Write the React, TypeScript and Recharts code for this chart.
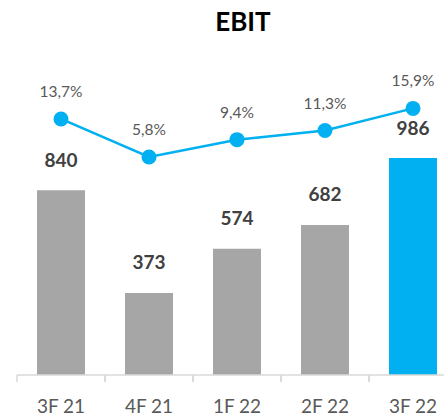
import React from 'react';
import { ComposedChart, Bar, Line, XAxis, YAxis, Cell, LabelList } from 'recharts';

// dados
const periods = ['3F 21', '4F 21', '1F 22', '2F 22', '3F 22'];
const ebit = [840, 373, 574, 682, 986];
const margin = [13.7, 5.8, 9.4, 11.3, 15.9];

const COLOR_GRAY = '#a6a6a6';
const COLOR_BLUE = '#00b0f0';
const COLOR_AXIS = '#d9d9d9';
const FONT = 'Lato, "Noto Sans", sans-serif';

const data = periods.map((p, i) => ({ name: p, ebit: ebit[i], margin: margin[i] }));

const fmtPct = (v: number) => v.toFixed(1).replace('.', ',') + '%';

// rótulo do valor em cima da barra
const BarValue = (props: any) => {
  const { x, y, width, value } = props;
  return (
    <text x={x + width / 2} y={y - 31} textAnchor="middle" dominantBaseline="central"
      fill="#404040" fontSize={19} fontWeight={700} fontFamily={FONT}>
      {value}
    </text>
  );
};

// rótulo da margem em cima do ponto
const PctValue = (props: any) => {
  const { x, y, value } = props;
  return (
    <text x={x} y={y - 28} textAnchor="middle" dominantBaseline="central"
      fill="#595959" fontSize={15.5} fontFamily={FONT}>
      {fmtPct(value)}
    </text>
  );
};

// tick do eixo X: texto no centro, traço na fronteira da categoria
const PeriodTick = (props: any) => {
  const { x, y, payload } = props;
  return (
    <g>
      <line x1={x - 44} x2={x - 44} y1={y} y2={y + 7} stroke={COLOR_AXIS} strokeWidth={1.5} />
      <line x1={x + 44} x2={x + 44} y1={y} y2={y + 7} stroke={COLOR_AXIS} strokeWidth={1.5} />
      <text x={x} y={y + 38} textAnchor="middle" fill="#595959" fontSize={19} fontFamily={FONT}>
        {payload.value}
      </text>
    </g>
  );
};

export default function App() {
  return (
    <div style={{ position: 'absolute', left: 0, top: 0, width: 444, height: 413, overflow: 'hidden', background: '#fff', fontFamily: FONT }}>
      <div style={{ position: 'absolute', left: 0, top: 6, width: 486, textAlign: 'center', fontSize: 26, fontWeight: 700, color: '#000', lineHeight: '30px' }}>
        EBIT
      </div>
      <ComposedChart width={460} height={430} data={data} margin={{ top: 67, right: 3, left: 17, bottom: 0 }}>
        <XAxis dataKey="name" height={55} axisLine={{ stroke: COLOR_AXIS, strokeWidth: 1.5 }} tickLine={false}
          tickSize={0} tickMargin={0} tick={<PeriodTick />} interval={0} />
        <YAxis yAxisId="left" hide domain={[0, 1400]} />
        <YAxis yAxisId="right" orientation="right" hide domain={[-39.5, 24.5]} />
        <Bar yAxisId="left" dataKey="ebit" barSize={48} isAnimationActive={false}>
          {data.map((d, i) => (
            <Cell key={d.name} fill={i === data.length - 1 ? COLOR_BLUE : COLOR_GRAY} />
          ))}
          <LabelList dataKey="ebit" content={<BarValue />} />
        </Bar>
        <Line yAxisId="right" dataKey="margin" stroke={COLOR_BLUE} strokeWidth={2.5}
          dot={{ r: 7.5, fill: COLOR_BLUE, stroke: COLOR_BLUE, strokeWidth: 0 }} isAnimationActive={false}>
          <LabelList dataKey="margin" content={<PctValue />} />
        </Line>
      </ComposedChart>
    </div>
  );
}
